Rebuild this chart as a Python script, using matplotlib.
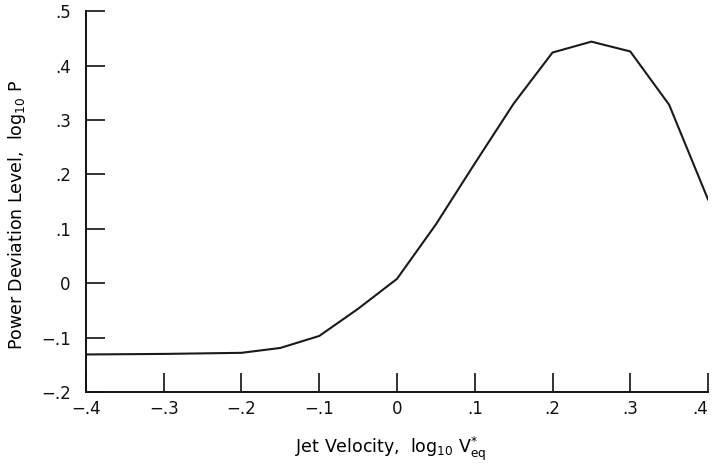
import numpy as np
import matplotlib.pyplot as plt

plt.rcParams['font.family'] = ['DejaVu Sans']
plt.rcParams['mathtext.fontset'] = 'dejavusans'
plt.rcParams['mathtext.default'] = 'regular'

# curve
jet_velocity = [-0.40, -0.30, -0.20, -0.15, -0.10, -0.05, 0.00, 0.05, 0.10, 0.15, 0.20, 0.25, 0.30, 0.35, 0.40]
power_dev = [-0.131, -0.130, -0.128, -0.119, -0.097, -0.047, 0.008, 0.108, 0.220, 0.330, 0.424, 0.444, 0.426, 0.328, 0.154]

x_ticks = [-0.4, -0.3, -0.2, -0.1, 0.0, 0.1, 0.2, 0.3, 0.4]
x_labels = ['\u2212.4', '\u2212.3', '\u2212.2', '\u2212.1', '0', '.1', '.2', '.3', '.4']
y_ticks = [-0.2, -0.1, 0.0, 0.1, 0.2, 0.3, 0.4, 0.5]
y_labels = ['\u2212.2', '\u2212.1', '0', '.1', '.2', '.3', '.4', '.5']

fig = plt.figure(figsize=(7.13, 4.66), dpi=100)
ax = fig.add_axes([0.1206, 0.1588, 0.8724, 0.8172])

ax.plot(jet_velocity, power_dev, color='#1a1a1a', lw=1.5)

ax.set_xlim(-0.4, 0.4)
ax.set_ylim(-0.2, 0.5)
ax.set_xticks(x_ticks)
ax.set_xticklabels(x_labels)
ax.set_yticks(y_ticks)
ax.set_yticklabels(y_labels)

for s in ['top', 'right']:
    ax.spines[s].set_visible(False)
for s in ['left', 'bottom']:
    ax.spines[s].set_linewidth(1.4)
    ax.spines[s].set_color('#111111')

ax.tick_params(axis='both', direction='in', length=14, width=1.2, colors='#111111', labelsize=12)
ax.tick_params(axis='x', pad=6)
ax.tick_params(axis='y', pad=11)
for lab in ax.get_xticklabels() + ax.get_yticklabels():
    lab.set_clip_on(False)
# last label sits left of its tick, as in the original
ax.get_xticklabels()[-1].set_horizontalalignment('right')

ax.set_xlabel(r'Jet Velocity,  log$_{10}$ V$^{*}_{eq}$', fontsize=12.5)
ax.set_ylabel(r'Power Deviation Level,  log$_{10}$ P', fontsize=12.5)
ax.xaxis.set_label_coords(0.49, -0.112)
ax.yaxis.set_label_coords(-0.093, 0.465)

plt.savefig('out.png', dpi=100)
